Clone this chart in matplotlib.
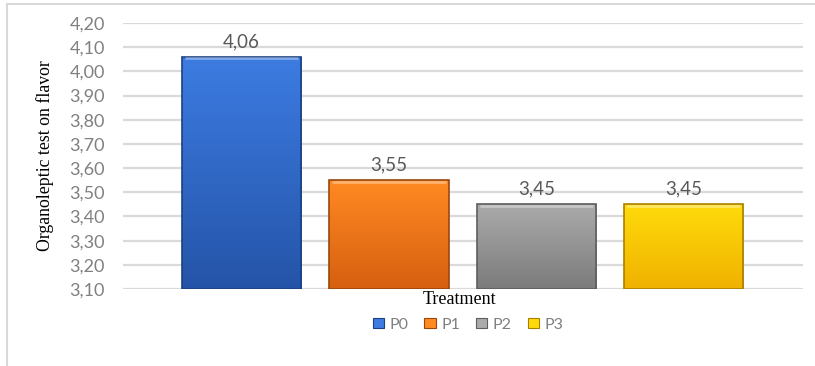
import numpy as np
import matplotlib
matplotlib.use("Agg")
import matplotlib.pyplot as plt
from matplotlib.colors import LinearSegmentedColormap
from matplotlib.patches import Rectangle, Patch
from matplotlib.ticker import FuncFormatter, MultipleLocator

categories = ["P0", "P1", "P2", "P3"]
values = [4.06, 3.55, 3.45, 3.45]
y_ticks = [3.10, 3.20, 3.30, 3.40, 3.50, 3.60, 3.70, 3.80, 3.90, 4.00, 4.10, 4.20]
x_label = "Treatment"
y_label = "Organoleptic test on flavor"

# top / bottom shades for each bar's vertical gradient
top_colors = ["#3d7ce2", "#ff8a22", "#ababab", "#ffdb0c"]
bottom_colors = ["#2454a8", "#d65f10", "#7b7b7b", "#f0b100"]
edge_colors = ["#1c4180", "#9c460c", "#5e5e5e", "#a88000"]

def comma(v, _pos=None):
    return f"{v:.2f}".replace(".", ",")

fig = plt.figure(figsize=(8.15, 3.66), dpi=100)
ax = fig.add_axes([123 / 815, 1 - 289 / 366, 680 / 815, 266 / 366])

ymin, ymax = y_ticks[0], y_ticks[-1]
ax.set_ylim(ymin, ymax)
ax.set_xlim(-0.804, 3.81)
ax.yaxis.set_major_locator(MultipleLocator(0.1))
ax.yaxis.set_major_formatter(FuncFormatter(comma))
ax.set_xticks([])
for s in ax.spines.values():
    s.set_visible(False)
ax.tick_params(axis="y", length=0, pad=13, labelsize=13, labelcolor="#808080")
for lab in ax.get_yticklabels():
    lab.set_family("Lato")
ax.grid(axis="y", color="#dadada", linewidth=1.6, zorder=0)
ax.set_axisbelow(True)

width = 0.81
bars = ax.bar(range(len(categories)), [v - ymin for v in values], bottom=ymin,
              width=width, color="none", edgecolor="none", zorder=2)

for i, (rect, v) in enumerate(zip(bars, values)):
    x0 = rect.get_x()
    x1 = x0 + rect.get_width()
    cmap = LinearSegmentedColormap.from_list(f"g{i}", [bottom_colors[i], top_colors[i]])
    grad = np.linspace(0, 1, 256).reshape(-1, 1)
    im = ax.imshow(grad, cmap=cmap, origin="lower", aspect="auto",
                   extent=(x0, x1, ymin, v), zorder=3)
    im.set_clip_path(rect)
    # bevel: bright top rim, darker sides
    ax.add_patch(Rectangle((x0, ymin), x1 - x0, v - ymin, fill=False,
                           edgecolor=edge_colors[i], linewidth=1.2, zorder=4))
    ax.plot([x0 + 0.02, x1 - 0.02], [v - 0.006, v - 0.006], color="white",
            alpha=0.35, linewidth=2, zorder=5, solid_capstyle="butt")
    ax.text(rect.get_x() + rect.get_width() / 2, v + 0.028, comma(v),
            ha="center", va="bottom", fontsize=13.5, color="#595959",
            family="Lato", zorder=6)

fig.text(460 / 815, 1 - 299 / 366, x_label, ha="center", va="center",
         fontsize=13, family="Liberation Serif", color="black")
fig.text(45 / 815, 1 - 156 / 366, y_label, ha="center", va="center",
         rotation=90, fontsize=12.8, family="Liberation Serif", color="black")

handles = [Patch(facecolor=top_colors[i], edgecolor=edge_colors[i], linewidth=0.8)
           for i in range(len(categories))]
leg = fig.legend(handles, categories, loc="center", bbox_to_anchor=(468 / 815, 1 - 325 / 366),
                 ncol=4, frameon=False, handlelength=0.7, handleheight=0.6,
                 handletextpad=0.35, columnspacing=1.0,
                 prop={"family": "Lato", "size": 11.5})
for t in leg.get_texts():
    t.set_color("#808080")

# chart frame
fig.add_artist(Rectangle((7 / 815, -0.05), 1.0, 1 - 4 / 366 + 0.05,
                         transform=fig.transFigure, fill=False,
                         edgecolor="#d9d9d9", linewidth=1.5))

fig.savefig("out.png", dpi=100)
